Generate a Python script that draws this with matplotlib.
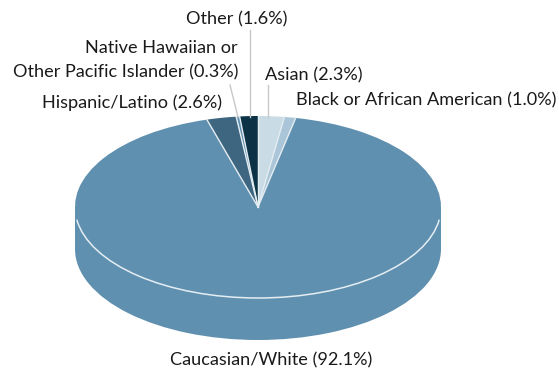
import numpy as np
import matplotlib
matplotlib.use('Agg')
import matplotlib.pyplot as plt
from matplotlib.patches import Rectangle, Arc

plt.rcParams['font.family'] = ['Lato', 'DejaVu Sans']

# values start at 12 o'clock and go clockwise
labels = ['Asian (2.3%)', 'Black or African American (1.0%)', 'Caucasian/White (92.1%)',
          'Hispanic/Latino (2.6%)', 'Native Hawaiian or\nOther Pacific Islander (0.3%)', 'Other (1.6%)']
values = [2.3, 1.0, 92.1, 2.6, 0.3, 1.6]
colors = ['#c9dbe4', '#a9c5d7', '#6090b0', '#3f6680', '#6090b0', '#0b3345']
main_color = '#6090b0'
line_color = '#e4edf2'

W, H = 559, 369
cx, cy = 258, 207
rx, ry = 183, 91
depth = 42

fig = plt.figure(figsize=(W / 100, H / 100), dpi=100)
ax = fig.add_axes([0, 0, 1, 1])

# side of the disc: same pie moved down, plus a band joining the two
ax.pie([1], colors=[main_color], center=(0, -depth / ry), startangle=90, radius=1)
ax.add_patch(Rectangle((-1, -depth / ry), 2, depth / ry, color=main_color, lw=0))
ax.pie(values, colors=colors, startangle=90, counterclock=False, radius=1)

ax.set_aspect('auto')
ax.set_xlim(-cx / rx, (W - cx) / rx)
ax.set_ylim(-(H - cy) / ry, cy / ry)
ax.axis('off')

# white only on the front rim and between the slices
ax.add_patch(Arc((0, 0), 2, 2, theta1=188, theta2=352, color=line_color, lw=1.1))
angles = np.radians(90 - 360 * np.cumsum(values) / sum(values))
for a in angles:
    ax.plot([0, np.cos(a)], [0, np.sin(a)], color=line_color, lw=1.0)
ax.plot([0, 0], [0, 1], color=line_color, lw=0.8)


def px(x, y):
    return (x - cx) / rx, (cy - y) / ry


# leader lines
leaders = [((250, 30), (250, 117)), ((230, 85), (238, 117)), ((268, 85), (268, 117))]
for a, b in leaders:
    ax.plot(*zip(px(*a), px(*b)), color='#c8c8c8', lw=1.0)

fs = 13.1
text_c = '#1a1a1a'
ax.text(*px(237, 19), labels[5], fontsize=fs, color=text_c, ha='center', va='center')
ax.text(*px(161.5, 48), 'Native Hawaiian or', fontsize=fs, color=text_c, ha='center', va='center')
ax.text(*px(126, 72), 'Other Pacific Islander (0.3%)', fontsize=fs, color=text_c, ha='center', va='center')
ax.text(*px(314, 75), labels[0], fontsize=fs, color=text_c, ha='center', va='center')
ax.text(*px(426, 100), labels[1], fontsize=fs, color=text_c, ha='center', va='center')
ax.text(*px(132.5, 103), labels[3], fontsize=fs, color=text_c, ha='center', va='center')
ax.text(*px(271.5, 360), labels[2], fontsize=fs, color=text_c, ha='center', va='center')

fig.savefig('out.png', dpi=100)
